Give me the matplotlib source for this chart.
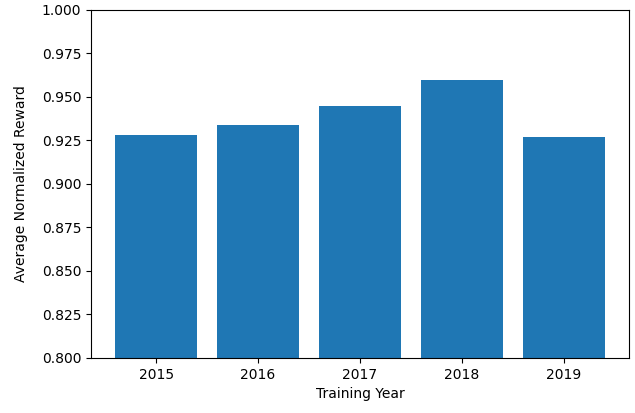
import matplotlib.pyplot as plt

years = ["2015", "2016", "2017", "2018", "2019"]
rewards = [0.928, 0.9337, 0.9448, 0.9596, 0.9271]

fig = plt.figure(figsize=(6.35, 4.13), dpi=100)
ax = fig.add_axes([0.1433, 0.1332, 0.8473, 0.8426])
ax.bar(years, rewards, color="#1f77b4")
ax.set_ylim(0.8, 1.0)
ax.set_yticks([0.8, 0.825, 0.85, 0.875, 0.9, 0.925, 0.95, 0.975, 1.0])
ax.set_yticklabels(["%.3f" % v for v in ax.get_yticks()])
ax.set_xlabel("Training Year")
ax.set_ylabel("Average Normalized Reward", labelpad=10)
fig.savefig("out.png", dpi=100)
